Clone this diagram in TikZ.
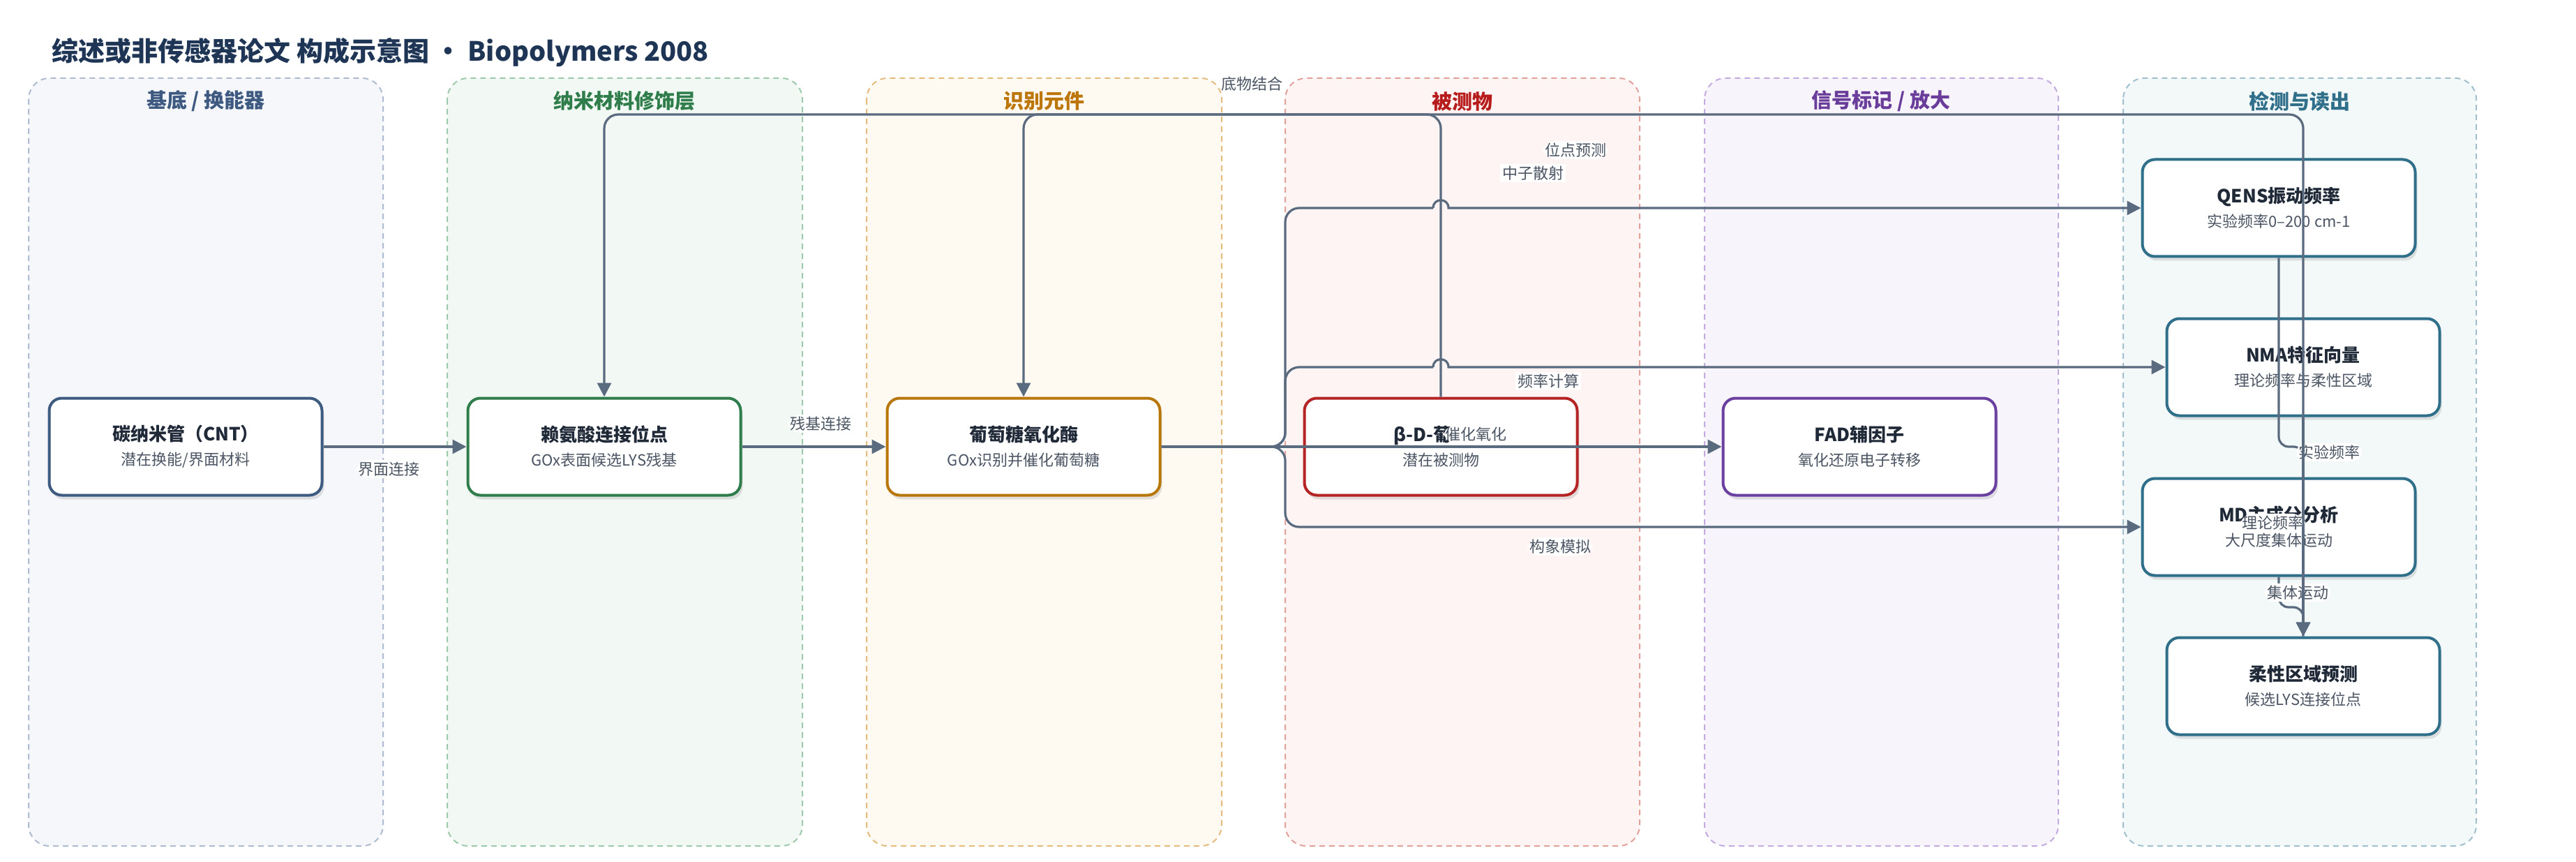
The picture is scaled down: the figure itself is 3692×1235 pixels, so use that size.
\documentclass[tikz,border=0pt]{standalone}
\usepackage{fontspec}
\setmainfont{Noto Sans CJK SC}
\usetikzlibrary{arrows.meta,shadows}

\definecolor{edgegray}{HTML}{5B6B7F}
\definecolor{ink}{HTML}{1F2937}
\definecolor{subink}{HTML}{4B5563}
\definecolor{titleink}{HTML}{1E3556}
% lane colours: fill, dashed border, heading, node border
\definecolor{basefill}{HTML}{F5F7FB}\definecolor{baseborder}{HTML}{AEBBD0}
\definecolor{basehead}{HTML}{3E5A80}\definecolor{basenode}{HTML}{3D5A80}
\definecolor{nanofill}{HTML}{F2F8F4}\definecolor{nanoborder}{HTML}{9DC9AC}
\definecolor{nanohead}{HTML}{2E7D4A}\definecolor{nanonode}{HTML}{2E7D4A}
\definecolor{recogfill}{HTML}{FEF9F1}\definecolor{recogborder}{HTML}{E6BC7E}
\definecolor{recoghead}{HTML}{BC760A}\definecolor{recognode}{HTML}{B8770B}
\definecolor{anafill}{HTML}{FDF4F3}\definecolor{anaborder}{HTML}{E3A19C}
\definecolor{anahead}{HTML}{B71C1C}\definecolor{ananode}{HTML}{B52424}
\definecolor{sigfill}{HTML}{F7F4FC}\definecolor{sigborder}{HTML}{C4ABE0}
\definecolor{sighead}{HTML}{6A3D9A}\definecolor{signode}{HTML}{6B3FA0}
\definecolor{detfill}{HTML}{F3F8F9}\definecolor{detborder}{HTML}{A0C0CD}
\definecolor{dethead}{HTML}{2F6F8A}\definecolor{detnode}{HTML}{2F6F8A}

\newcommand{\boxtext}[2]{{\fontsize{13}{17.5}\selectfont\bfseries\color{ink}#1}\\{\color{subink}#2}}

\begin{document}
\begin{tikzpicture}[x=0.5pt,y=-0.5pt,
    lane/.style={draw=#1border,fill=#1fill,line width=1pt,
      dash pattern=on 4pt off 3pt,rounded corners=15pt},
    lanehead/.style={text=#1head,font=\fontsize{14.5}{17}\selectfont\bfseries},
    box/.style={draw=#1node,fill=white,line width=2pt,rounded corners=9pt,
      minimum width=195.5pt,minimum height=69.5pt,align=center,
      font=\fontsize{11}{17.5}\selectfont,
      drop shadow={shadow xshift=1.5pt,shadow yshift=-3pt,opacity=0.15,fill=black!70}},
    link/.style={draw=edgegray,line width=1.6pt,rounded corners=10pt,
      -{Triangle[length=10pt,width=10pt]}},
    lbl/.style={fill=white,inner sep=1.5pt,text=subink,font=\fontsize{11}{13}\selectfont}]

  \useasboundingbox (0,0) rectangle (3692,1235);

  \node[anchor=west,inner sep=0pt,text=titleink,font=\fontsize{19}{22}\selectfont\bfseries]
    (title) at (74,75) {综述或非传感器论文 构成示意图 · Biopolymers 2008};

  % lanes
  \draw[lane=base]  (41,112)   rectangle (549,1212);
  \draw[lane=nano]  (641,112)  rectangle (1150,1212);
  \draw[lane=recog] (1242,112) rectangle (1751,1212);
  \draw[lane=ana]   (1842,112) rectangle (2350,1212);
  \draw[lane=sig]   (2443,112) rectangle (2950,1212);
  \draw[lane=det]   (3043,112) rectangle (3549,1212);

  \node[lanehead=base]  (h1) at (295,145)  {基底 / 换能器};
  \node[lanehead=nano]  (h2) at (895,145)  {纳米材料修饰层};
  \node[lanehead=recog] (h3) at (1496,145) {识别元件};
  \node[lanehead=ana]   (h4) at (2096,145) {被测物};
  \node[lanehead=sig]   (h5) at (2696,145) {信号标记 / 放大};
  \node[lanehead=det]   (h6) at (3296,145) {检测与读出};

  % components
  \node[box=base]  (1) at (266,640)  {\boxtext{碳纳米管（CNT）}{潜在换能/界面材料}};
  \node[box=nano]  (2) at (866,640)  {\boxtext{赖氨酸连接位点}{GOx表面候选LYS残基}};
  \node[box=recog] (3) at (1467,640) {\boxtext{葡萄糖氧化酶}{GOx识别并催化葡萄糖}};
  \node[box=ana]   (4) at (2065,640) {\boxtext{β-D-葡萄糖}{潜在被测物}};
  \node[box=sig]   (5) at (2665,640) {\boxtext{FAD辅因子}{氧化还原电子转移}};
  \node[box=det]   (6) at (3266,298) {\boxtext{QENS振动频率}{实验频率0–200 cm-1}};
  \node[box=det]   (7) at (3301,526) {\boxtext{NMA特征向量}{理论频率与柔性区域}};
  \node[box=det]   (8) at (3266,755) {\boxtext{MD主成分分析}{大尺度集体运动}};
  \node[box=det]   (9) at (3301,983) {\boxtext{柔性区域预测}{候选LYS连接位点}};

  % connectors
  \draw[link] (1) -- (2) node[lbl] at (557,672) {界面连接};
  \draw[link] (2) -- (3) node[lbl] at (1176,607) {残基连接};
  \draw[link] (3) -- (5) node[lbl] at (2115,622) {催化氧化};
  \draw[link] (4.north) |- (1467,164) -- (3.north) node[lbl] at (1794,120) {底物结合};
  \draw[link] (3.east) -| (1842,298) -- (2054,298)
    (2054,298) [sharp corners] .. controls +(0,-15) and +(0,-15) .. (2076,298) -- (6.west)
    node[lbl] at (2197,248) {中子散射};
  \draw[link] (3.east) -| (1842,526) -- (2054,526)
    (2054,526) [sharp corners] .. controls +(0,-15) and +(0,-15) .. (2076,526) -- (7.west)
    node[lbl] at (2219,546) {频率计算};
  \draw[link] (3.east) -| (1842,755) -- (8.west) node[lbl] at (2236,783) {构象模拟};
  \draw[link,rounded corners=7pt] (6.south) |- (3301,640) -- (9.north)
    node[lbl] at (3338,648) {实验频率};
  \draw[link,rounded corners=7pt] (8.south) |- (3301,870) -- (9.north)
    node[lbl] at (3293,849) {集体运动};
  \draw[link] (7.south) -- (9.north) node[lbl] at (3257,749) {理论频率};
  \draw[link] (9.north) |- (866,164) -- (2.north) node[lbl] at (2258,215) {位点预测};

\end{tikzpicture}
\end{document}
